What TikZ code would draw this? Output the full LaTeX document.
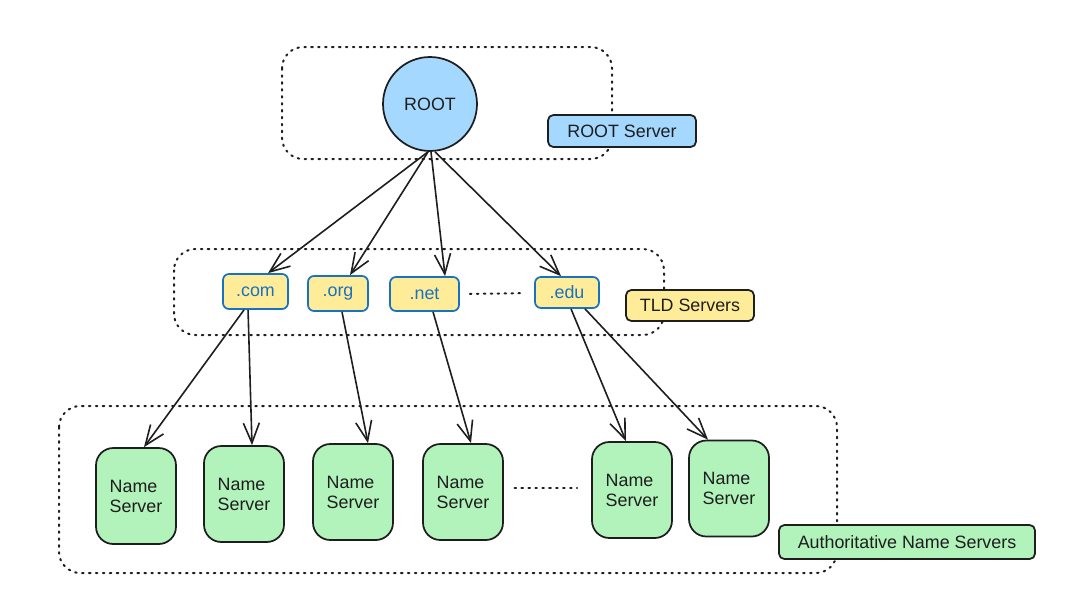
\documentclass[tikz,border=0pt]{standalone}
\usepackage{fontspec}
\setmainfont{Liberation Sans}
\usetikzlibrary{arrows.meta}
\definecolor{blueF}{HTML}{A5D8FF}
\definecolor{yellowF}{HTML}{FFEC99}
\definecolor{greenF}{HTML}{B2F2BB}
\definecolor{blueS}{HTML}{1971C2}
\definecolor{dark}{HTML}{1E1E1E}
\tikzset{
  grp/.style={draw=dark, line width=1.5pt, dash pattern=on 1.2pt off 4pt, line cap=round, rounded corners=16pt},
  dotsline/.style={draw=dark, line width=1.5pt, dash pattern=on 1.2pt off 4pt, line cap=round},
  lbl/.style={draw=dark, line width=1.3pt, rounded corners=4pt, inner sep=0pt, font=\fontsize{13.4}{15}\selectfont, text=dark},
  tld/.style={draw=blueS, fill=yellowF, line width=1.3pt, rounded corners=4.5pt, inner sep=0pt, font=\fontsize{13.4}{15}\selectfont, text=blueS},
  ns/.style={draw=dark, fill=greenF, line width=1.3pt, rounded corners=13pt, inner sep=0pt, minimum width=60pt, minimum height=72pt, font=\fontsize{13.4}{15}\selectfont, text=dark, align=left},
  arr/.style={draw=dark, line width=1.2pt, -{Straight Barb[length=15pt,width=12pt,line width=1.2pt]}}
}
\begin{document}
\begin{tikzpicture}[x=0.75pt,y=-0.75pt]
\useasboundingbox (0,0) rectangle (1077,601);
% group frames
\draw[grp] (282,47) rectangle (612,159);
\draw[grp] (174,249) rectangle (664,335);
\draw[grp] (59,406) rectangle (837,573);
% root
\node[circle, draw=dark, fill=blueF, line width=1.3pt, minimum size=70.5pt, inner sep=0pt, font=\fontsize{13.4}{15}\selectfont, text=dark] (root) at (430,104) {ROOT};
\node[lbl, fill=blueF, minimum width=111pt, minimum height=24pt] (rootlbl) at (622,131) {ROOT Server};
% TLD
\node[tld, minimum width=48.75pt, minimum height=26.25pt] (com) at (255.5,291.5) {.com};
\node[tld, minimum width=45pt, minimum height=26.25pt] (org) at (338,293.5) {.org};
\node[tld, minimum width=51.75pt, minimum height=25.5pt] (net) at (424.5,294) {.net};
\node[tld, minimum width=48pt, minimum height=23.25pt] (edu) at (567,292.5) {.edu};
\node[lbl, fill=yellowF, minimum width=96pt, minimum height=23.25pt] (tldlbl) at (690,305.5) {TLD Servers};
% name servers
\node[ns] (ns1) at (136,496) {Name\\Server};
\node[ns] (ns2) at (244,494) {Name\\Server};
\node[ns] (ns3) at (353,492) {Name\\Server};
\node[ns] (ns4) at (463,492) {Name\\Server};
\node[ns] (ns5) at (632,490) {Name\\Server};
\node[ns] (ns6) at (729,488.5) {Name\\Server};
\node[lbl, fill=greenF, minimum width=192pt, minimum height=25.5pt] (authlbl) at (907,542) {Authoritative Name Servers};
% ellipses
\draw[dotsline, shorten <=7.5pt, shorten >=7.5pt] (net.east) -- ([yshift=-0.4pt]edu.west);
\draw[dotsline, shorten <=8pt, shorten >=10.5pt] ([yshift=3pt]ns4.east) -- ([yshift=1.5pt]ns5.west);
% arrows root -> tld
\draw[arr] ([xshift=-1.5pt]root.south) -- ([xshift=9.4pt]com.north);
\draw[arr] ([xshift=-1.5pt]root.south) -- ([xshift=9pt]org.north);
\draw[arr] ([xshift=0.75pt]root.south) -- ([xshift=15.4pt]net.north);
\draw[arr] ([xshift=3.75pt]root.south) -- ([xshift=-4.5pt]edu.north);
% arrows tld -> ns
\draw[arr] ([xshift=-8.6pt]com.south) -- ([xshift=6pt]ns1.north);
\draw[arr] ([xshift=-5.6pt]com.south) -- ([xshift=6pt]ns2.north);
\draw[arr] ([xshift=3pt]org.south) -- ([xshift=11.25pt]ns3.north);
\draw[arr] ([xshift=6.4pt]net.south) -- ([xshift=6pt]ns4.north);
\draw[arr] ([xshift=3pt]edu.south) -- ([xshift=-4.5pt]ns5.north);
\draw[arr] ([xshift=13.5pt]edu.south) -- ([xshift=-15.75pt]ns6.north);
\end{tikzpicture}
\end{document}
